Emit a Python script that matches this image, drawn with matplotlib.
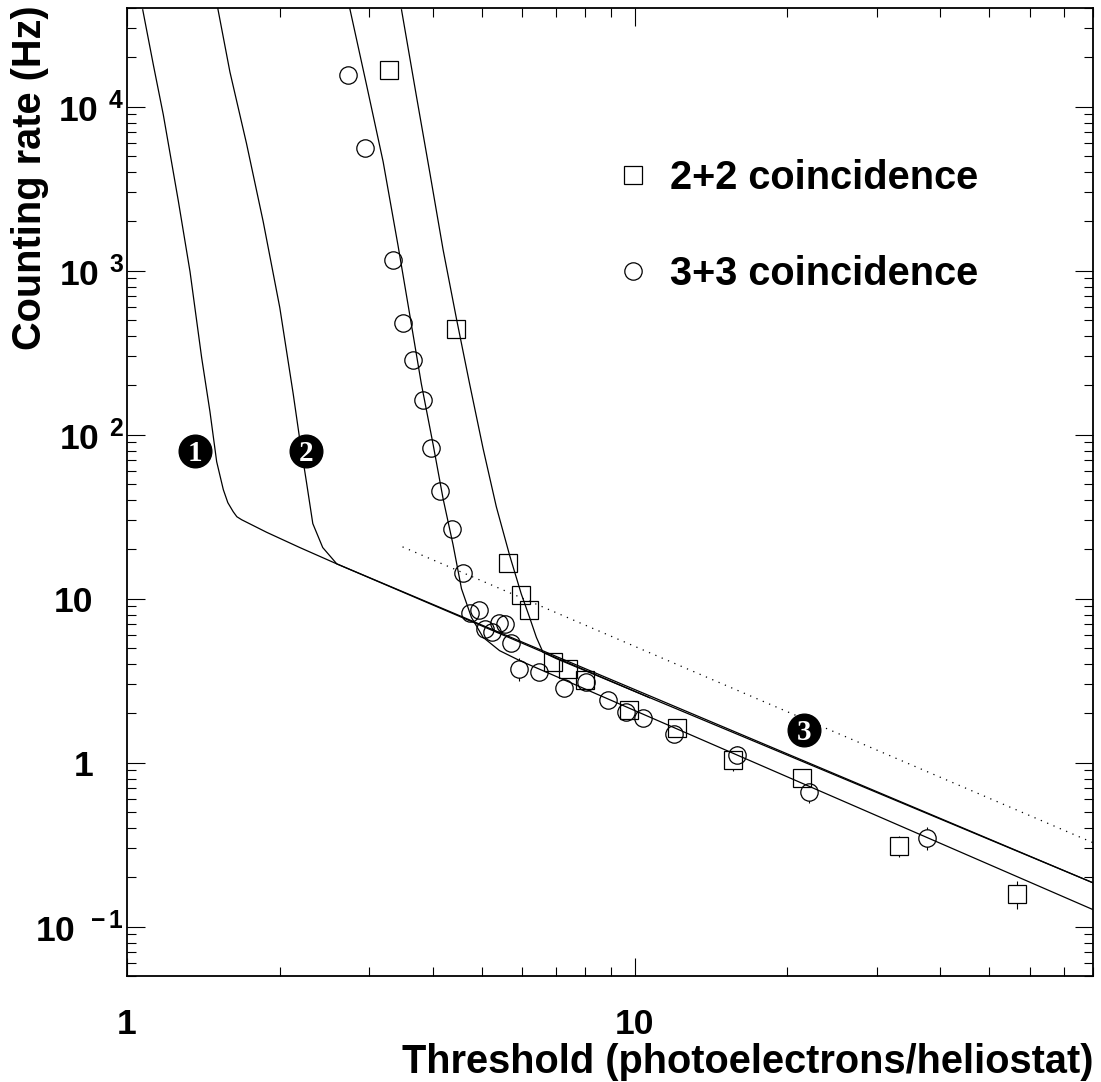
"""Counting rate vs threshold for 2+2 and 3+3 heliostat coincidences (log-log)."""
import matplotlib
matplotlib.use("Agg")
import matplotlib.pyplot as plt
from matplotlib.ticker import FixedLocator, FixedFormatter, NullFormatter

plt.rcParams["font.family"] = ["Liberation Sans", "DejaVu Sans"]
plt.rcParams["font.weight"] = "bold"
plt.rcParams["mathtext.fontset"] = "custom"
plt.rcParams["mathtext.rm"] = "Liberation Sans:bold"
plt.rcParams["mathtext.it"] = "Liberation Sans:bold"
plt.rcParams["mathtext.bf"] = "Liberation Sans:bold"

sq_x = [3.28, 4.44, 5.62, 5.97, 6.18, 6.90, 7.38, 7.97, 9.73, 12.1, 15.6, 21.4, 33.2, 56.7]
sq_y = [16800, 443, 16.6, 10.6, 8.57, 4.13, 3.74, 3.21, 2.10, 1.63, 1.04, 0.81, 0.312, 0.159]
sq_err = [0, 0, 0, 0, 0, 0, 0, 0, 0, 0, 0.15, 0.10, 0.045, 0.031]

ci_x = [2.72, 2.95, 3.34, 3.49, 3.66, 3.83, 3.98, 4.13, 4.36, 4.59, 4.75, 4.93, 5.07, 5.23,
        5.40, 5.55, 5.70, 5.91, 6.47, 7.25, 8.01, 8.85, 9.63, 10.37, 11.94, 15.88, 22.1, 37.7]
ci_y = [15700, 5620, 1167, 482, 287, 163, 83.3, 45.6, 26.7, 14.4, 8.22, 8.57, 6.56, 6.29,
        7.14, 7.04, 5.39, 3.74, 3.59, 2.87, 3.12, 2.42, 2.05, 1.88, 1.50, 1.12, 0.665, 0.349]
ci_err = [0, 0, 0, 0, 0, 0, 0, 0, 0, 0, 0, 0, 0, 0,
          0, 0, 0, 0.6, 0, 0, 0, 0, 0, 0, 0, 0.15, 0.10, 0.055]

# ---- model curves (traced) ----
c1_x = [1.074, 1.127, 1.179, 1.262, 1.331, 1.403, 1.457, 1.502, 1.548, 1.58, 1.619, 1.646,
        1.682, 1.884, 2.19, 2.59, 80]
c1_y = [39000, 18000, 8940, 2670, 986, 295, 138, 68.4, 46.2, 38.5, 33.9, 31.6,
        30.3, 25.4, 20.5, 16.3, 0.185]

c2_x = [1.51, 1.595, 1.72, 1.855, 2.0, 2.125, 2.19, 2.258, 2.323, 2.43, 2.59, 10.7]
c2_y = [39600, 16300, 5950, 1990, 595, 178, 93.2, 51.0, 28.7, 20.5, 16.3, 2.49]

c3_x = [2.748, 2.964, 3.196, 3.42, 3.606, 3.80, 4.01, 4.195, 4.388, 4.56, 4.77, 5.03, 5.42, 5.94, 80]
c3_y = [39600, 13600, 4620, 1420, 539, 205, 86.9, 40.7, 21.4, 11.5, 7.69, 5.81, 4.82, 4.19, 0.127]

c4_x = [3.474, 3.718, 3.95, 4.195, 4.457, 4.73, 5.03, 5.34, 5.675, 5.98, 6.21, 6.405, 6.60, 7.01, 80]
c4_y = [39000, 11540, 3960, 1343, 510, 205, 82.2, 36.4, 18.3, 10.7, 7.69, 5.81, 4.71, 4.31, 0.185]

dot_x = [3.49, 80]
dot_y = [20.7, 0.325]

tag_x = [1.36, 2.25, 21.6]
tag_y = [79.9, 79.9, 1.59]
tag_text = ["1", "2", "3"]

x_ticks = [1, 10]
x_labels = ["1", "10"]
y_ticks = [0.1, 1, 10, 100, 1000, 10000]
y_labels = [r"$10^{\ \,-1}$", "1", "10", r"$10^{\ \,2}$", r"$10^{\ \,3}$", r"$10^{\ \,4}$"]

fig = plt.figure(figsize=(11.01, 10.82), dpi=100)
fig.subplots_adjust(left=127 / 1101, right=1093 / 1101, bottom=1 - 976 / 1082, top=1 - 8 / 1082)
ax = fig.add_subplot(111)
ax.set_xscale("log")
ax.set_yscale("log")
ax.set_xlim(1, 80)
ax.set_ylim(0.05, 40000)

for cx, cy in [(c1_x, c1_y), (c2_x, c2_y), (c3_x, c3_y), (c4_x, c4_y)]:
    ax.plot(cx, cy, "-", color="black", lw=0.9, zorder=3)
ax.plot(dot_x, dot_y, color="black", lw=0.9, linestyle=(0, (1, 4.5)), zorder=3)

ms = 12.5
# error bars, hidden inside the markers by a white mask
for xs, ys, es, mk in [(sq_x, sq_y, sq_err, "s"), (ci_x, ci_y, ci_err, "o")]:
    ex = [x for x, e in zip(xs, es) if e > 0]
    ey = [y for y, e in zip(ys, es) if e > 0]
    ee = [e for e in es if e > 0]
    ax.errorbar(ex, ey, yerr=ee, fmt="none", ecolor="black", elinewidth=0.8, capsize=0, zorder=1)
    ax.plot(ex, ey, mk, ms=ms, mfc="white", mec="none", zorder=1.5)

h_sq, = ax.plot(sq_x, sq_y, "s", ms=ms, mfc="none", mec="black", mew=0.9, zorder=2)
h_ci, = ax.plot(ci_x, ci_y, "o", ms=ms, mfc="none", mec="black", mew=0.9, zorder=2)

for tx, ty, tt in zip(tag_x, tag_y, tag_text):
    ax.plot([tx], [ty], "o", ms=23.5, color="black", zorder=4)
    ax.text(tx, ty, tt, color="white", fontsize=21, fontweight="bold",
            family="Liberation Serif", ha="center", va="center_baseline", zorder=5)

ax.legend([h_sq, h_ci], ["2+2 coincidence", "3+3 coincidence"], loc="upper left",
          bbox_to_anchor=(0.5135, 0.844), frameon=False, handlelength=0.5,
          handletextpad=0.68, labelspacing=1.45, borderaxespad=0, borderpad=0,
          prop={"size": 28.6, "weight": "bold"})

ax.xaxis.set_major_locator(FixedLocator(x_ticks))
ax.xaxis.set_major_formatter(FixedFormatter(x_labels))
ax.xaxis.set_minor_formatter(NullFormatter())
ax.yaxis.set_major_locator(FixedLocator(y_ticks))
ax.yaxis.set_major_formatter(FixedFormatter(y_labels))
ax.yaxis.set_minor_formatter(NullFormatter())
ax.tick_params(which="both", direction="in", top=True, right=True, width=0.8, color="black")
ax.tick_params(which="major", length=13, labelsize=25.5)
ax.tick_params(which="minor", length=6.5)
ax.tick_params(axis="x", which="major", pad=23)
ax.tick_params(axis="y", which="major", pad=2)
for tick, lab in zip(ax.yaxis.get_major_ticks(), y_labels):
    if not lab.startswith("$"):
        tick.set_pad(24)
for sp in ax.spines.values():
    sp.set_linewidth(1.3)

ax.set_xlabel("Threshold (photoelectrons/heliostat)", fontsize=28.6, fontweight="bold",
              ha="right", va="top")
ax.xaxis.set_label_coords(1.0, -0.069)
ax.set_ylabel("Counting rate (Hz)", fontsize=28.6, fontweight="bold", ha="right")
ax.yaxis.set_label_coords(-0.081, 1.003)

fig.savefig("out.png", dpi=100)
